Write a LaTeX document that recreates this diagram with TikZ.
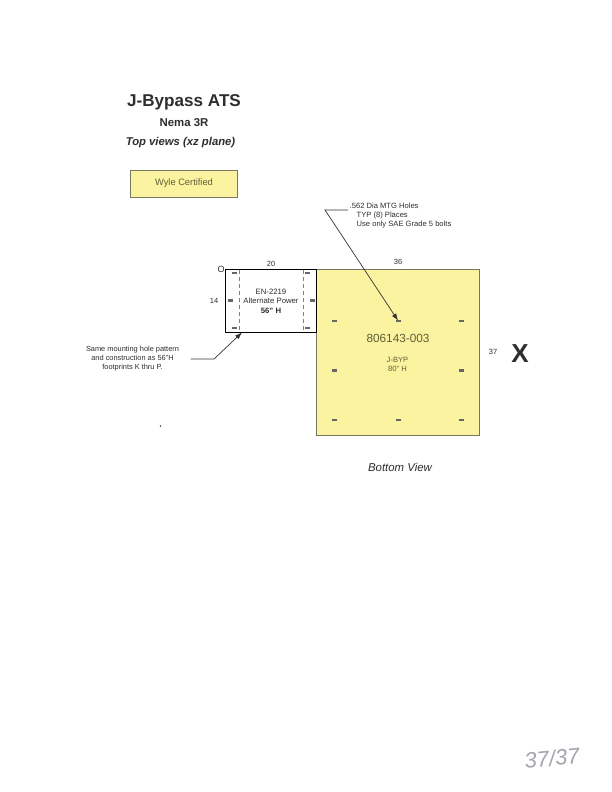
\documentclass[tikz,border=0pt]{standalone}
\usepackage{fontspec}
\setmainfont{Liberation Sans}
\usetikzlibrary{arrows.meta, positioning}
\definecolor{padyellow}{HTML}{FBF3A0}
\definecolor{inktext}{HTML}{2E2E2E}
\definecolor{oliveink}{HTML}{5F5F34}
\definecolor{edgegray}{HTML}{77775F}
\definecolor{pencil}{HTML}{A4A4AE}
\begin{document}
\begin{tikzpicture}
  [x=1pt, y=-1pt,
   padbox/.style={draw=edgegray, fill=padyellow, line width=0.9pt, inner sep=0pt},
   label/.style={font=\fontsize{7.5}{9}\selectfont, text=inktext, inner sep=0pt, align=center},
   hole/.style={fill=black!60, minimum width=5pt, minimum height=2.6pt, inner sep=0pt},
   cutline/.style={draw=black!50, line width=0.7pt, dash pattern=on 4pt off 3pt},
   leader/.style={draw=black!80, line width=0.7pt, -{Latex[length=7pt, width=5pt]}}]
  \useasboundingbox (0, 0) rectangle (612, 792);
  \fill [white] (0, 0) rectangle (612, 792);

  % headings
  \node (title) at (184, 102) [label, font=\bfseries\fontsize{17.1}{20}\selectfont] {J-Bypass ATS};
  \node (nema) at (184, 123) [label, font=\bfseries\fontsize{11.4}{13}\selectfont] {Nema 3R};
  \node (views) at (180.5, 143) [label, font=\bfseries\itshape\fontsize{11.3}{13}\selectfont] {Top views (xz plane)};
  \node (wyle) at (184, 183.5) [padbox, minimum width=107pt, minimum height=27pt,
    font=\fontsize{9.3}{11}\selectfont, text=oliveink] {Wyle Certified};

  % footprints
  \node (byp) at (398, 352.5) [padbox, minimum width=162.5pt, minimum height=166.5pt] {};
  \node (alt) at (271, 300.5) [draw=black, fill=white, line width=0.8pt, inner sep=0pt,
    minimum width=91pt, minimum height=63pt] {};
  \coordinate (cutLtop) at (239.5, 270);
  \coordinate (cutLbot) at (239.5, 332);
  \coordinate (cutRtop) at (303, 270);
  \coordinate (cutRbot) at (303, 332);
  \draw [cutline] (cutLtop) -- (cutLbot);
  \draw [cutline] (cutRtop) -- (cutRbot);

  % mounting holes
  \foreach \x in {334.5, 398, 461.5}{
    \node (ht\x) at (\x, 321) [hole] {};
    \node (hb\x) at (\x, 420) [hole] {};
  }
  \foreach \x in {334.5, 461.5}
    \node (hm\x) at (\x, 370.5) [hole] {};
  \foreach \x in {234, 307}{
    \node (at\x) at (\x, 273) [hole] {};
    \node (ab\x) at (\x, 328) [hole] {};
  }
  \node (amL) at (230, 300.5) [hole] {};
  \node (amR) at (312, 300.5) [hole] {};
  \coordinate (holeTip) at (398, 320.5);
  \coordinate (altTip) at (242, 332.5);

  % labels
  \node (origin) at (221, 269) [label, font=\fontsize{9}{10}\selectfont] {O};
  \node (w20) at (271, 264) [label] {20};
  \node (w36) at (398, 261.5) [label] {36};
  \node (d14) at (214, 300.5) [label] {14};
  \node (d37) at (493, 351.5) [label] {37};
  \node (mark) at (520, 354) [label, font=\bfseries\fontsize{26}{28}\selectfont] {X};
  \node (altname) at (271, 301) [label, font=\fontsize{7.75}{9.5}\selectfont] {EN-2219\\Alternate Power\\\textbf{56'' H}};
  \node (bypnum) at (398, 338) [label, font=\fontsize{11.8}{14}\selectfont, text=oliveink] {806143-003};
  \node (bypname) at (397.5, 364) [label, font=\fontsize{7.6}{9}\selectfont, text=oliveink] {J-BYP\\80'' H};
  \node (view) at (400, 467) [label, font=\itshape\fontsize{11.4}{13}\selectfont] {Bottom View};
  \node (holes) at (349.5, 216) [label, font=\fontsize{7.6}{9}\selectfont, anchor=west, align=left] {.562 Dia MTG Holes\\
    \hspace*{7pt}TYP (8) Places\\\hspace*{7pt}Use only SAE Grade 5 bolts};
  \node (same) at (132.5, 358.5) [label, font=\fontsize{7.4}{8.7}\selectfont] {Same mounting hole pattern\\
    and construction as 56''H\\footprints K thru P.};
  \node (tally) at (552, 758) [label, font=\itshape\fontsize{22}{24}\selectfont, text=pencil, rotate=6] {37/37};
  \fill [black!70] (160.5, 426) circle (0.9pt);

  % leaders
  \coordinate (holeStart) at (348, 210);
  \coordinate (holeKnee) at (325, 210);
  \coordinate (sameStart) at (190.5, 359);
  \coordinate (sameKnee) at (214, 359);
  \draw [leader] (holeStart) -- (holeKnee) -- (holeTip);
  \draw [leader] (sameStart) -- (sameKnee) -- (altTip);
\end{tikzpicture}
\end{document}
